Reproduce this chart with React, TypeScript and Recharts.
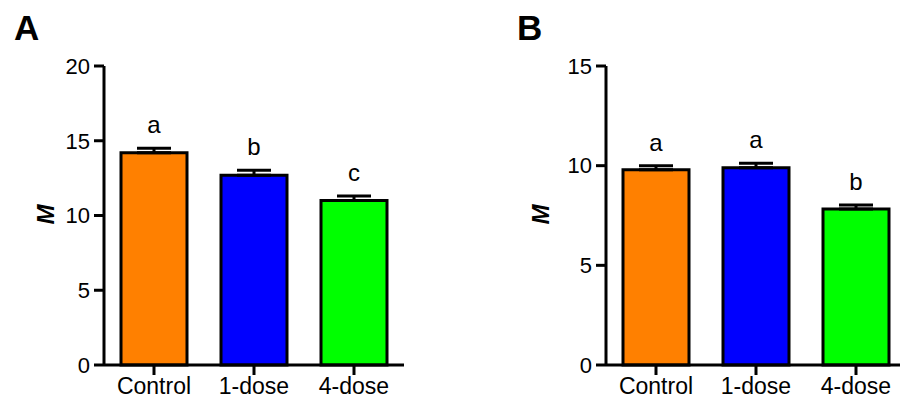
import React from 'react';
import { ComposedChart, Bar, Line, XAxis, YAxis, ErrorBar, Cell, LabelList } from 'recharts';

const categories = ['Control', '1-dose', '4-dose'];
const barColors = ['#FF8000', '#0000FF', '#00FF00'];

const meansA = [14.2, 12.7, 11.0];
const semA = [0.3, 0.33, 0.3];
const lettersA = ['a', 'b', 'c'];
const ticksA = [0, 5, 10, 15, 20];

const meansB = [9.8, 9.9, 7.83];
const semB = [0.2, 0.22, 0.2];
const lettersB = ['a', 'a', 'b'];
const ticksB = [0, 5, 10, 15];

const FONT = '"Liberation Sans", Arial, Helvetica, sans-serif';

function buildData(means: number[], sems: number[], letters: string[]) {
  return categories.map((name, i) => ({
    name,
    mean: means[i],
    err: [0, sems[i]],
    top: means[i] + sems[i],
    sig: letters[i],
  }));
}

const dataA = buildData(meansA, semA, lettersA);
const dataB = buildData(meansB, semB, lettersB);

type PanelProps = {
  data: any[];
  ticks: number[];
  left: number;
  width: number;
  yAxisWidth: number;
  marginRight: number;
  labelX: number;
};

function Panel({ data, ticks, left, width, yAxisWidth, marginRight, labelX }: PanelProps) {
  const max = ticks[ticks.length - 1];
  return (
    <div style={{ position: 'absolute', left, top: 0 }}>
      <ComposedChart
        width={width}
        height={402}
        data={data}
        margin={{ top: 66, right: marginRight, bottom: 0, left: 0 }}
      >
        <XAxis
          dataKey="name"
          height={37}
          tickSize={10}
          tickMargin={3}
          axisLine={{ stroke: '#000', strokeWidth: 3 }}
          tickLine={{ stroke: '#000', strokeWidth: 3 }}
          tick={{ fill: '#000', fontSize: 23, fontFamily: FONT }}
          interval={0}
        />
        <YAxis
          width={yAxisWidth}
          domain={[0, max]}
          ticks={ticks}
          interval={0}
          tickSize={10}
          tickMargin={4}
          axisLine={{ stroke: '#000', strokeWidth: 3 }}
          tickLine={{ stroke: '#000', strokeWidth: 3 }}
          tick={{ fill: '#000', fontSize: 22, fontFamily: FONT }}
          label={(props: any) => {
            const vb = props.viewBox || {};
            const cy = vb.height ? vb.y + vb.height / 2 - 1 : 214;
            return (
              <text
                x={labelX}
                y={cy}
                transform={`rotate(-90 ${labelX} ${cy})`}
                textAnchor="middle"
                dominantBaseline="central"
                fontFamily={FONT}
                fontWeight="bold"
                fontStyle="italic"
                fontSize={24}
                fill="#000"
              >
                M
              </text>
            );
          }}
        />
        <Bar dataKey="mean" barSize={66} stroke="#000" strokeWidth={3} isAnimationActive={false}>
          {data.map((d, i) => (
            <Cell key={d.name} fill={barColors[i]} />
          ))}
          <ErrorBar dataKey="err" direction="y" width={17} stroke="#000" strokeWidth={3} />
        </Bar>
        <Line
          dataKey="top"
          stroke="none"
          dot={false}
          activeDot={false}
          isAnimationActive={false}
        >
          <LabelList
            dataKey="sig"
            position="top"
            offset={15}
            fill="#000"
            fontSize={24}
            fontFamily={FONT}
          />
        </Line>
      </ComposedChart>
    </div>
  );
}

export default function App() {
  return (
    <div
      style={{
        position: 'absolute',
        left: 0,
        top: 0,
        width: 900,
        height: 402,
        overflow: 'hidden',
        background: '#fff',
      }}
    >
      <Panel data={dataA} ticks={ticksA} left={0} width={450} yAxisWidth={104} marginRight={46} labelX={45} />
      <Panel data={dataB} ticks={ticksB} left={450} width={456} yAxisWidth={156} marginRight={0} labelX={90} />
      <svg width={900} height={402} style={{ position: 'absolute', left: 0, top: 0, pointerEvents: 'none' }}>
        <text x={14} y={40} fontFamily={FONT} fontWeight="bold" fontSize={35} fill="#000">
          A
        </text>
        <text x={517} y={40} fontFamily={FONT} fontWeight="bold" fontSize={35} fill="#000">
          B
        </text>
      </svg>
    </div>
  );
}
